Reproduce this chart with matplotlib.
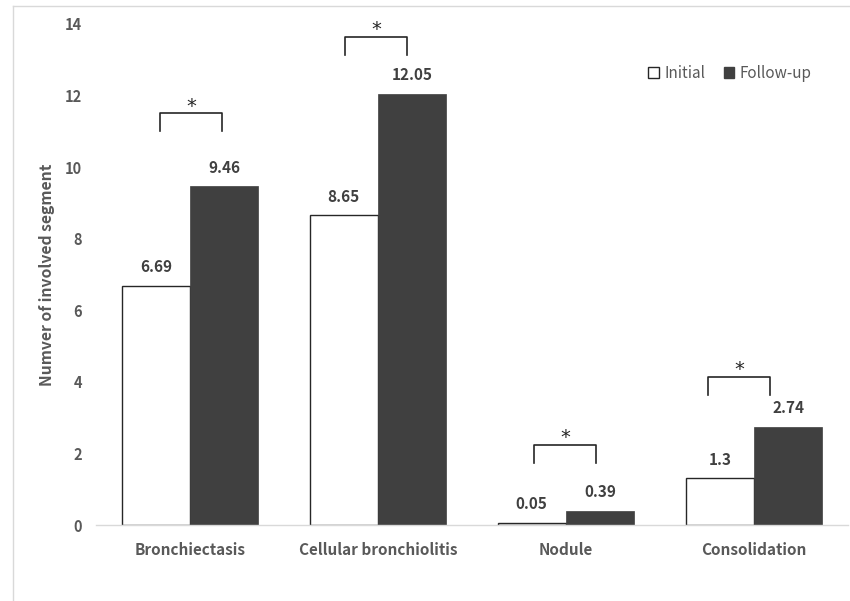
import matplotlib
matplotlib.use("Agg")
import matplotlib.pyplot as plt
from matplotlib.patches import Patch
from matplotlib.lines import Line2D
import numpy as np

plt.rcParams['font.family'] = ['Noto Sans CJK KR', 'DejaVu Sans']

categories = ["Bronchiectasis", "Cellular bronchiolitis", "Nodule", "Consolidation"]
initial = [6.69, 8.65, 0.05, 1.3]
follow_up = [9.46, 12.05, 0.39, 2.74]
initial_labels = ["6.69", "8.65", "0.05", "1.3"]
follow_labels = ["9.46", "12.05", "0.39", "2.74"]
# significance brackets
brackets_xl = [-0.16, 0.824, 1.83, 2.755]
brackets_xr = [0.17, 1.154, 2.16, 3.085]
brackets_top = [11.5, 13.63, 2.23, 4.13]
brackets_bot = [11.0, 13.13, 1.73, 3.63]
yticks = [0, 2, 4, 6, 8, 10, 12, 14]

fig = plt.figure(figsize=(8.5, 6.01), dpi=100)
ax = fig.add_axes([96/850, 1-525/601, (848-96)/850, (525-24)/601])

x = np.arange(len(categories))
w = 0.364
dark = "#404040"
ax.bar(x - w/2, initial, w, color="white", edgecolor="#262626", linewidth=1.0, label="Initial", zorder=2)
ax.bar(x + w/2, follow_up, w, color=dark, edgecolor=dark, linewidth=0.5, label="Follow-up", zorder=2)

for xi, v, t in zip(x - w/2, initial, initial_labels):
    ax.annotate(t, (xi, v), xytext=(0, 13.5), textcoords="offset points", ha="center", va="center",
                fontsize=11, fontweight="bold", color=dark)
for xi, v, t in zip(x + w/2, follow_up, follow_labels):
    ax.annotate(t, (xi, v), xytext=(0, 13.5), textcoords="offset points", ha="center", va="center",
                fontsize=11, fontweight="bold", color=dark)

for xl, xr, yt, yb in zip(brackets_xl, brackets_xr, brackets_top, brackets_bot):
    ax.plot([xl, xl, xr, xr], [yb, yt, yt, yb], color="#262626", linewidth=1.2, clip_on=False, zorder=3)
    ax.annotate("*", ((xl + xr)/2, yt), xytext=(0, -1.5), textcoords="offset points", ha="center", va="bottom",
                fontsize=14, color="#262626", annotation_clip=False, family="DejaVu Sans")

ax.set_xlim(-0.5, 3.5)
ax.set_ylim(0, 14)
ax.set_yticks(yticks)
ax.set_yticklabels([str(v) for v in yticks], fontsize=10.5, fontweight="bold", color="#595959")
ax.set_xticks(x)
ax.set_xticklabels(categories, fontsize=11, fontweight="bold", color="#595959")
ax.tick_params(axis="y", length=0, pad=10)
ax.tick_params(axis="x", length=0, pad=12)
for s in ["top", "right", "left"]:
    ax.spines[s].set_visible(False)
ax.spines["bottom"].set_color("#d9d9d9")
ax.spines["bottom"].set_linewidth(1.0)
ax.set_ylabel("Numver of involved segment", fontsize=11.3, fontweight="bold", color="#595959", labelpad=7)

handles = [Patch(facecolor="white", edgecolor="#262626", linewidth=1.0),
           Patch(facecolor=dark, edgecolor=dark)]
leg = ax.legend(handles, ["Initial", "Follow-up"], loc="center", bbox_to_anchor=(730/850, 1-73/601),
                bbox_transform=fig.transFigure, ncol=2, frameon=False, fontsize=11,
                handlelength=0.7, handleheight=0.7, handletextpad=0.35, columnspacing=1.2)
for t in leg.get_texts():
    t.set_color("#595959")

# figure border (partially visible)
fig.add_artist(Line2D([13/850, 1.0], [1-6/601, 1-6/601], color="#d9d9d9", linewidth=1.0, transform=fig.transFigure))
fig.add_artist(Line2D([13/850, 13/850], [0, 1-6/601], color="#d9d9d9", linewidth=1.0, transform=fig.transFigure))

fig.savefig("out.png", dpi=100, facecolor="white")
